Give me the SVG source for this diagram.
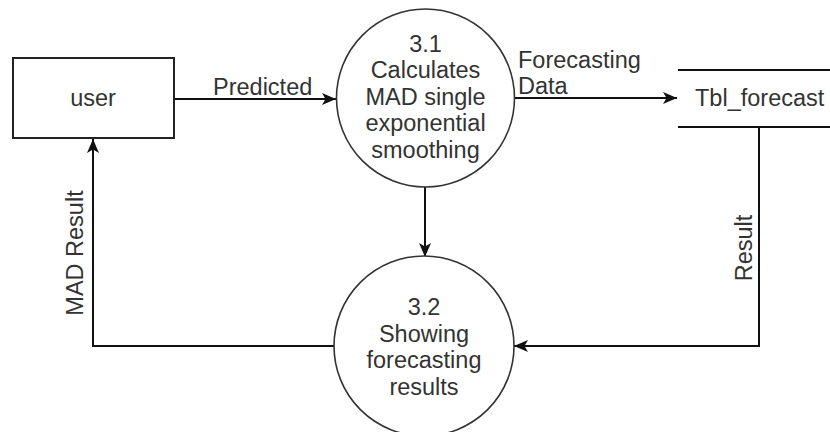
<svg xmlns="http://www.w3.org/2000/svg" width="830" height="432" viewBox="0 0 830 432">
  <style>
    .shape { fill: #ffffff; stroke: #222222; stroke-width: 2; }
    .proc { fill: #ffffff; stroke: #333333; stroke-width: 1.6; }
    .flow { fill: none; stroke: #111111; stroke-width: 2; }
    .lbl { font-family: "Liberation Sans", Arial, sans-serif; font-size: 23.5px; fill: #333333; }
    .mid { text-anchor: middle; }
  </style>
  <defs>
    <marker id="arrow" viewBox="0 0 14 12" refX="14" refY="6" markerWidth="14" markerHeight="12" markerUnits="userSpaceOnUse" orient="auto">
      <path d="M0,0 L14,6 L0,12 L3.5,6 Z" fill="#111111"/>
    </marker>
  </defs>
  <rect width="830" height="432" fill="#ffffff"/>

  <!-- data flows -->
  <g id="connectors">
    <path class="flow" d="M174,99 L336,99" marker-end="url(#arrow)"/>
    <text class="lbl" x="213" y="95">Predicted</text>
    <path class="flow" d="M515,98 L677,98" marker-end="url(#arrow)"/>
    <text class="lbl" x="518" y="68">Forecasting</text>
    <text class="lbl" x="518" y="94">Data</text>
    <path class="flow" d="M425,187 L425,257" marker-end="url(#arrow)"/>
    <path class="flow" d="M759,127 L759,346 L514,346" marker-end="url(#arrow)"/>
    <text class="lbl mid" transform="translate(752 248) rotate(-90)">Result</text>
    <path class="flow" d="M334,346 L93,346 L93,139" marker-end="url(#arrow)"/>
    <text class="lbl mid" transform="translate(83 253) rotate(-90)">MAD Result</text>
  </g>

  <!-- external entity -->
  <g id="user">
    <rect class="shape" x="13" y="58" width="161" height="80"/>
    <text class="lbl mid" x="93" y="106">user</text>
  </g>

  <!-- process 3.1 -->
  <g id="process-3-1">
    <circle class="proc" cx="425.5" cy="98" r="89"/>
    <text class="lbl mid" x="425.5" y="52">3.1</text>
    <text class="lbl mid" x="425.5" y="78">Calculates</text>
    <text class="lbl mid" x="425.5" y="105">MAD single</text>
    <text class="lbl mid" x="425.5" y="131">exponential</text>
    <text class="lbl mid" x="425.5" y="158">smoothing</text>
  </g>

  <!-- data store -->
  <g id="tbl-forecast">
    <path class="flow" d="M678,70 L830,70 M678,127 L830,127"/>
    <text class="lbl" x="695" y="106">Tbl_forecast</text>
  </g>

  <!-- process 3.2 -->
  <g id="process-3-2">
    <circle class="proc" cx="424" cy="346" r="90"/>
    <text class="lbl mid" x="424" y="315">3.2</text>
    <text class="lbl mid" x="424" y="342">Showing</text>
    <text class="lbl mid" x="424" y="368">forecasting</text>
    <text class="lbl mid" x="424" y="395">results</text>
  </g>
</svg>
